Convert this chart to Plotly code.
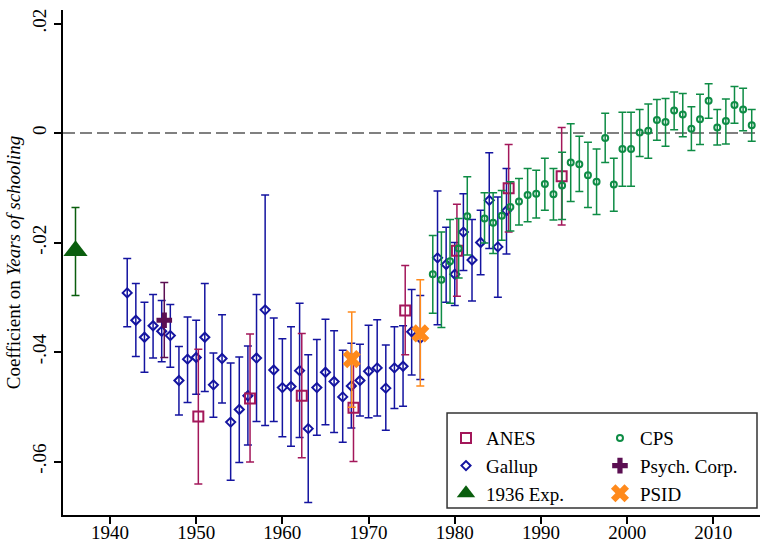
import plotly.graph_objects as go

# ---------------- data ----------------
gallup_year = [1942, 1943, 1944, 1945, 1946, 1947, 1948, 1949, 1950, 1951, 1952, 1953, 1954, 1955,
               1956, 1957, 1958, 1959, 1960, 1961, 1962, 1963, 1964, 1965, 1966, 1967, 1968, 1969,
               1970, 1971, 1972, 1973, 1974, 1975, 1976, 1978, 1979, 1980, 1981, 1982, 1983, 1984,
               1985, 1986]
gallup_coef = [-0.0292, -0.0342, -0.0373, -0.0352, -0.0362, -0.0370, -0.0452, -0.0413, -0.0410, -0.0373,
               -0.0460, -0.0412, -0.0528, -0.0505, -0.0480, -0.0411, -0.0323, -0.0433, -0.0465, -0.0463,
               -0.0434, -0.0540, -0.0465, -0.0437, -0.0454, -0.0482, -0.0462, -0.0452, -0.0435, -0.0429,
               -0.0466, -0.0429, -0.0426, -0.0363, -0.0375, -0.0228, -0.0240, -0.0258, -0.0181, -0.0232,
               -0.0200, -0.0123, -0.0208, -0.0142]
gallup_hi = [-0.0229, -0.0275, -0.0309, -0.0295, -0.0306, -0.0313, -0.0390, -0.0336, -0.0342, -0.0275,
             -0.0402, -0.0332, -0.0420, -0.0409, -0.0389, -0.0295, -0.0113, -0.0338, -0.0376, -0.0354,
             -0.0311, -0.0405, -0.0377, -0.0340, -0.0361, -0.0397, -0.0384, -0.0386, -0.0351, -0.0341,
             -0.0387, -0.0354, -0.0352, -0.0286, -0.0297, -0.0106, -0.0172, -0.0200, -0.0111, -0.0158,
             -0.0141, -0.0036, -0.0117, -0.0065]
gallup_lo = [-0.0354, -0.0408, -0.0437, -0.0411, -0.0418, -0.0428, -0.0515, -0.0492, -0.0477, -0.0472,
             -0.0519, -0.0493, -0.0634, -0.0602, -0.0570, -0.0527, -0.0534, -0.0527, -0.0555, -0.0572,
             -0.0556, -0.0675, -0.0552, -0.0533, -0.0547, -0.0565, -0.0539, -0.0517, -0.0520, -0.0517,
             -0.0543, -0.0503, -0.0499, -0.0442, -0.0450, -0.0350, -0.0309, -0.0315, -0.0251, -0.0307,
             -0.0259, -0.0211, -0.0300, -0.0221]

anes_year = [1950.25, 1956.25, 1962.25, 1968.25, 1974.25, 1980.25, 1986.25, 1992.4]
anes_coef = [-0.0518, -0.0485, -0.0480, -0.0502, -0.0324, -0.0215, -0.0101, -0.0079]
anes_hi = [-0.0395, -0.0367, -0.0366, -0.0404, -0.0242, -0.0130, -0.0021, 0.0010]
anes_lo = [-0.0641, -0.0601, -0.0593, -0.0600, -0.0405, -0.0298, -0.0181, -0.0168]

cps_year = [1977.45, 1978.45, 1979.45, 1980.45, 1981.45, 1983.45, 1984.45, 1985.45, 1986.45, 1987.45,
            1988.45, 1989.45, 1990.45, 1991.45, 1992.45, 1993.45, 1994.45, 1995.45, 1996.45, 1997.45,
            1998.45, 1999.45, 2000.45, 2001.45, 2002.45, 2003.45, 2004.45, 2005.45, 2006.45, 2007.45,
            2008.45, 2009.45, 2010.45, 2011.45, 2012.45, 2013.45, 2014.45]
cps_coef = [-0.0258, -0.0268, -0.0234, -0.0211, -0.0152, -0.0156, -0.0164, -0.0151, -0.0135, -0.0125,
            -0.0113, -0.0111, -0.0093, -0.0112, -0.0096, -0.0054, -0.0057, -0.0077, -0.0089, -0.0009,
            -0.0094, -0.0029, -0.0029, 0.0001, 0.0004, 0.0024, 0.0020, 0.0041, 0.0034, 0.0008,
            0.0025, 0.0059, 0.0010, 0.0022, 0.0051, 0.0043, 0.0014]
cps_hi = [-0.0187, -0.0181, -0.0158, -0.0156, -0.0080, -0.0109, -0.0109, -0.0105, -0.0089, -0.0083,
          -0.0065, -0.0068, -0.0046, -0.0065, -0.0035, 0.0017, -0.0006, -0.0017, -0.0029, 0.0036,
          -0.0046, 0.0038, 0.0038, 0.0043, 0.0053, 0.0061, 0.0063, 0.0075, 0.0072, 0.0048,
          0.0071, 0.0090, 0.0043, 0.0062, 0.0085, 0.0082, 0.0043]
cps_lo = [-0.0329, -0.0355, -0.0311, -0.0265, -0.0223, -0.0201, -0.0220, -0.0196, -0.0179, -0.0168,
          -0.0162, -0.0155, -0.0141, -0.0159, -0.0158, -0.0125, -0.0107, -0.0136, -0.0149, -0.0054,
          -0.0143, -0.0097, -0.0097, -0.0043, -0.0046, -0.0013, -0.0024, 0.0006, -0.0007, -0.0032,
          -0.0021, 0.0027, -0.0022, -0.0020, 0.0018, 0.0004, -0.0015]

psych_year = [1946.3]
psych_coef = [-0.0342]
psych_hi = [-0.0273]
psych_lo = [-0.0410]

psid_year = [1968.05, 1976.0]
psid_coef = [-0.0413, -0.0366]
psid_hi = [-0.0327, -0.0268]
psid_lo = [-0.0501, -0.0462]

exp_year = [1936.0]
exp_coef = [-0.0215]
exp_hi = [-0.0136]
exp_lo = [-0.0297]

x_ticks = [1940, 1950, 1960, 1970, 1980, 1990, 2000, 2010]
y_ticks = [0.02, 0, -0.02, -0.04, -0.06]
y_ticktext = [".02", "0", "-.02", "-.04", "-.06"]

FONT = "Liberation Serif, Times New Roman, serif"

fig = go.Figure()


def add_series(name, xs, ys, hi, lo, color, symbol, size, lw, legend, rank):
    fig.add_trace(go.Scatter(
        x=xs, y=ys, mode="markers", name=name,
        legend=legend, legendrank=rank,
        marker=dict(symbol=symbol, size=size, color=color,
                    line=dict(color=color, width=lw)),
        error_y=dict(type="data", symmetric=False,
                     array=[h - c for h, c in zip(hi, ys)],
                     arrayminus=[c - l for c, l in zip(ys, lo)],
                     color=color, thickness=1.5, width=4),
    ))


add_series("Gallup", gallup_year, gallup_coef, gallup_hi, gallup_lo, "#1414A0", "diamond-open", 7, 2, "legend", 2)
add_series("ANES", anes_year, anes_coef, anes_hi, anes_lo, "#A3175A", "square-open", 10, 2, "legend", 1)
add_series("CPS", cps_year, cps_coef, cps_hi, cps_lo, "#0E8C45", "circle-open", 6, 2, "legend2", 1)
add_series("Psych. Corp.", psych_year, psych_coef, psych_hi, psych_lo, "#5B0F52", "cross", 13, 0, "legend2", 2)
add_series("1936 Exp.", exp_year, exp_coef, exp_hi, exp_lo, "#0A5E0E", "triangle-up", 21, 0, "legend", 3)
add_series("PSID", psid_year, psid_coef, psid_hi, psid_lo, "#FF8A1C", "x", 16, 0, "legend2", 3)

# zero reference line
fig.add_shape(type="line", xref="paper", yref="y", x0=0, x1=1, y0=0, y1=0,
              line=dict(color="#808080", width=2, dash="12px,5px"), layer="below")

# legend frame
fig.add_shape(type="rect", xref="paper", yref="paper", x0=0.551, x1=0.9957, y0=0.0139, y1=0.202,
              line=dict(color="#333333", width=1.5), fillcolor="white", layer="above")

legend_common = dict(
    orientation="v", yanchor="top", xanchor="left",
    bgcolor="rgba(0,0,0,0)", borderwidth=0,
    font=dict(family=FONT, size=19, color="black"),
    itemsizing="trace", traceorder="normal",
)

fig.update_layout(
    width=760, height=543,
    margin=dict(l=63, r=0, t=10, b=28),
    paper_bgcolor="white", plot_bgcolor="white",
    font=dict(family=FONT, size=19, color="black"),
    showlegend=True,
    legend=dict(x=0.5495, y=0.190, **legend_common),
    legend2=dict(x=0.7704, y=0.190, **legend_common),
    xaxis=dict(
        range=[1934.55, 2015.41], tickmode="array", tickvals=x_ticks, automargin=False,
        showgrid=False, zeroline=False, showline=True, linecolor="black", linewidth=2,
        ticks="outside", ticklen=7, tickwidth=2, tickcolor="black", ticklabelstandoff=-8,
        tickfont=dict(family=FONT, size=19, color="black"),
    ),
    yaxis=dict(
        range=[-0.06977, 0.02247], tickmode="array", tickvals=y_ticks, ticktext=y_ticktext,
        automargin=False,
        showgrid=False, zeroline=False, showline=True, linecolor="black", linewidth=2,
        ticks="outside", ticklen=7, tickwidth=2, tickcolor="black", tickangle=-90,
        tickfont=dict(family=FONT, size=19, color="black"),
        title=dict(text="Coefficient on <i>Years of schooling</i>",
                   font=dict(family=FONT, size=19, color="black"), standoff=4),
    ),
)

fig.write_html(
    "out.html",
    config={"displayModeBar": False},
    post_script="document.body.style.margin='0';document.body.style.overflow='hidden';",
)
